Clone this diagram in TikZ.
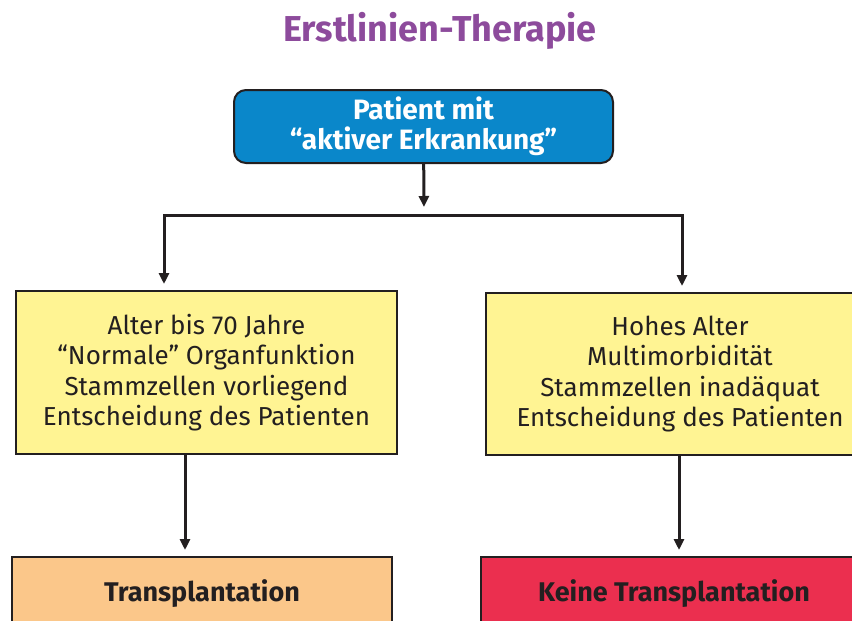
\documentclass[tikz,border=0pt]{standalone}
\usepackage{fontspec}
\setmainfont{Fira Sans}
\usetikzlibrary{arrows.meta}
\definecolor{titlepurple}{HTML}{8D4B9C}
\definecolor{boxblue}{HTML}{0A87CA}
\definecolor{boxyellow}{HTML}{FFF493}
\definecolor{boxorange}{HTML}{FBC78A}
\definecolor{boxred}{HTML}{EB2F4F}
\definecolor{inkdark}{HTML}{231F20}
\begin{document}
\begin{tikzpicture}[x=1pt,y=-1pt,
  box/.style={draw=inkdark,line width=2pt,text=inkdark,align=center,inner sep=0pt},
  arr/.style={draw=inkdark,line width=3pt,-{Triangle[length=11pt,width=10pt]},shorten >=6pt}]
\useasboundingbox (0,0) rectangle (852,621);
\clip (0,0) rectangle (852,621);
\node (title) at (440,31) [text=titlepurple,font=\bfseries\fontsize{36}{40}\selectfont] {Erstlinien-Therapie};
\node (pat) at (423.5,126.5) [box,fill=boxblue,rounded corners=12pt,minimum width=379pt,minimum height=73pt,text=white,font=\bfseries\fontsize{28}{30}\selectfont] {Patient mit\\“aktiver Erkrankung”};
\node (jung) at (206.5,372.5) [box,fill=boxyellow,minimum width=381pt,minimum height=163pt,font=\fontsize{26}{30.5}\selectfont] {Alter bis 70 Jahre\\“Normale” Organfunktion\\Stammzellen vorliegend\\Entscheidung des Patienten};
\node (alt) at (680,374) [box,fill=boxyellow,minimum width=388pt,minimum height=162pt,font=\fontsize{26}{30.5}\selectfont] {Hohes Alter\\Multimorbidität\\Stammzellen inadäquat\\Entscheidung des Patienten};
\node (trans) at (202,593.5) [box,fill=boxorange,minimum width=380pt,minimum height=73pt,font=\bfseries\fontsize{27}{28}\selectfont] {Transplantation};
\node (keine) at (674,593.5) [box,fill=boxred,minimum width=386pt,minimum height=73pt,font=\bfseries\fontsize{27}{28}\selectfont] {Keine Transplantation};
\coordinate (split) at (424,215);
\coordinate (lsplit) at (164,215);
\coordinate (rsplit) at (682,215);
\coordinate (ldown) at (185,0);
\coordinate (rdown) at (679,0);
\draw[arr,shorten >=8pt] (pat) -- (split);
\draw[arr] (split) -| (jung.north -| lsplit);
\draw[arr] (split) -| (alt.north -| rsplit);
\draw[arr] (jung.south -| ldown) -- (trans.north -| ldown);
\draw[arr] (alt.south -| rdown) -- (keine.north -| rdown);
\end{tikzpicture}
\end{document}
